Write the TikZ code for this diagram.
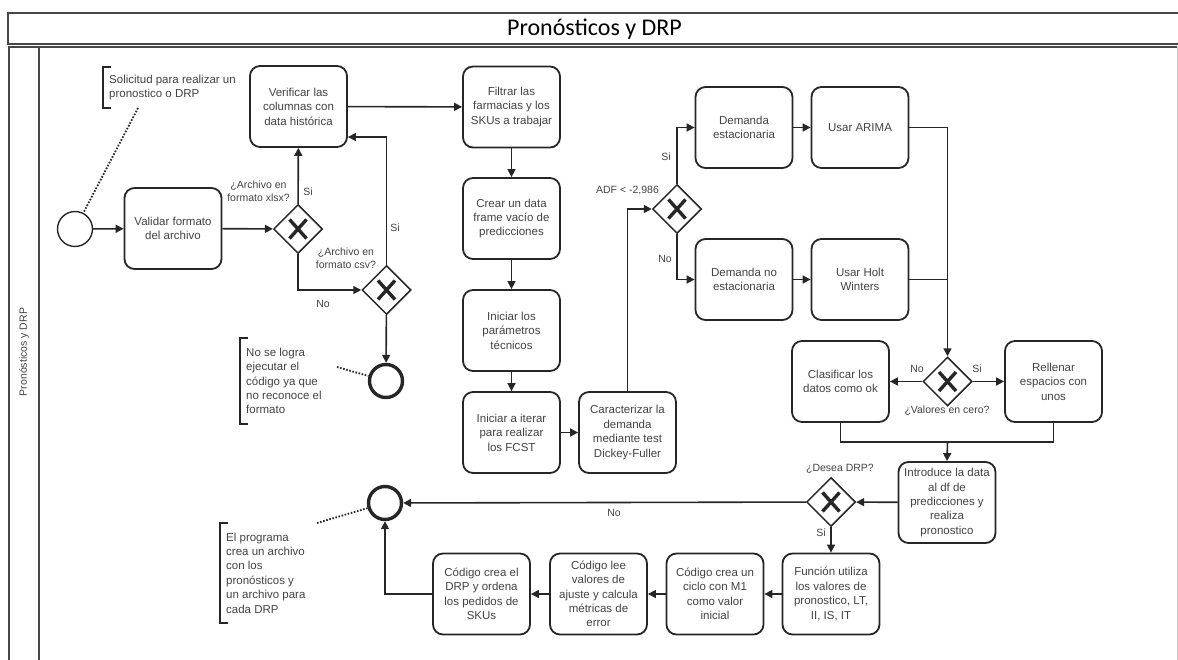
\documentclass[tikz,border=0pt]{standalone}
\usepackage{fontspec}
\setmainfont{Liberation Sans}
\newfontfamily\titlefont{Carlito}
\usetikzlibrary{shapes.geometric,arrows.meta}
\definecolor{ink}{RGB}{38,38,38}
\definecolor{txt}{RGB}{66,66,66}
\definecolor{rim}{RGB}{205,205,205}
\newcommand\gwx[1]{\draw[xmark] ([shift={(-8.5pt,-9.5pt)}]#1.center) -- ([shift={(8.5pt,9.5pt)}]#1.center)
  ([shift={(-8.5pt,9.5pt)}]#1.center) -- ([shift={(8.5pt,-9.5pt)}]#1.center);}
\begin{document}
\begin{tikzpicture}[x=1pt,y=-1pt,
  every node/.style={text=txt},
  task/.style={draw=ink, line width=1.8pt, rounded corners=10pt, minimum width=97pt,
    minimum height=81pt, align=center, inner sep=2pt, font=\fontsize{11.5}{14.4}\selectfont},
  gate/.style={draw=ink, diamond, aspect=1, minimum width=49pt, minimum height=49pt,
    inner sep=0pt, line width=1.5pt},
  xmark/.style={draw=ink, line width=3.4pt},
  startev/.style={circle, draw=ink, line width=1.4pt, minimum size=35pt, inner sep=0pt},
  endev/.style={circle, draw=ink, line width=3.4pt, minimum size=33pt, inner sep=0pt},
  flow/.style={draw=ink, line width=1.6pt, -{Triangle[length=8pt,width=8pt]}},
  plain/.style={draw=ink, line width=1.6pt},
  lbl/.style={font=\fontsize{10.5}{13}\selectfont, inner sep=0pt, align=center},
  note/.style={align=left, anchor=west, inner xsep=6pt, inner ysep=0pt,
    font=\fontsize{11.5}{14.4}\selectfont},
  bracket/.style={draw=ink, line width=1.8pt},
  assoc/.style={draw=ink, line width=1.8pt, dash pattern=on 1.6pt off 1.6pt},
  frame/.style={draw=ink!85, line width=1.5pt},
]
\useasboundingbox (0,0) rectangle (1178,660);

% pool and title bar
\draw[frame] (1180,13) -- (8,13) -- (8,44) -- (1180,44);
\draw[frame] (9,660) -- (9,47) -- (1177,47);
\draw[rim, line width=1pt] (1177,47) -- (1177,660);
\draw[frame] (39,47) -- (39,660);
\node[text=black, font=\titlefont\fontsize{24}{28}\selectfont] (title) at (594.5,29) {Pronósticos y DRP};
\node[rotate=90, font=\fontsize{10.5}{12}\selectfont] (lane) at (24,352) {Pronósticos y DRP};

% activities and events
\node[startev] (start) at (75,229) {};
\node[task] (validar) at (173,228.5) {Validar formato\\del archivo};
\node[gate] (g1) at (298,229) {};
\node[task] (verif) at (298.5,106.5) {Verificar las\\columnas con\\data histórica};
\node[gate] (g2) at (386.5,290) {};
\node[endev] (end1) at (386,381) {};
\node[task] (filtrar) at (511.5,107) {Filtrar las\\farmacias y los\\SKUs a trabajar};
\node[task] (crear) at (511.5,218.5) {Crear un data\\frame vacío de\\predicciones};
\node[task] (param) at (511.5,330.5) {Iniciar los\\parámetros\\técnicos};
\node[task] (iterar) at (511.5,432.5) {Iniciar a iterar\\para realizar\\los FCST};
\node[task] (caract) at (627.5,432.5) {Caracterizar la\\demanda\\mediante test\\Dickey-Fuller};
\node[gate] (g3) at (677,209) {};
\node[task] (dest) at (744,127.5) {Demanda\\estacionaria};
\node[task] (dnoest) at (744,279.5) {Demanda no\\estacionaria};
\node[task] (arima) at (860,127.5) {Usar ARIMA};
\node[task] (holt) at (860,279.5) {Usar Holt\\Winters};
\node[gate] (g4) at (947.5,381.5) {};
\node[task] (clasif) at (840.5,381.5) {Clasificar los\\datos como ok};
\node[task] (rellenar) at (1053.5,381.5) {Rellenar\\espacios con\\unos};
\coordinate (join) at (947.5,442);
\node[task] (intro) at (947,502.5) {Introduce la data\\al df de\\predicciones y\\realiza\\pronostico};
\node[gate] (g5) at (831,502) {};
\node[endev] (end2) at (385,503) {};
\node[task] (funcion) at (831,594) {Función utiliza\\los valores de\\pronostico, LT,\\II, IS, IT};
\node[task] (ciclo) at (715,594) {Código crea un\\ciclo con M1\\como valor\\inicial};
\node[task] (lee) at (598.5,594) {Código lee\\valores de\\ajuste y calcula\\métricas de\\error};
\node[task] (drp) at (481.5,594) {Código crea el\\DRP y ordena\\los pedidos de\\SKUs};

\gwx{g1}\gwx{g2}\gwx{g3}\gwx{g4}\gwx{g5}

% sequence flows
\draw[flow] (start) -- (validar);
\draw[flow] (validar) -- (g1);
\draw[flow] (g1) -- (verif);
\draw[flow] (g1.south) |- (g2.west);
\draw[flow] (g2.north) |- ([yshift=-30.5pt]verif.east);
\draw[flow] (g2) -- (end1);
\draw[flow] (verif) -- (filtrar);
\draw[flow] (filtrar) -- (crear);
\draw[flow] (crear) -- (param);
\draw[flow] (param) -- (iterar);
\draw[flow] (iterar) -- (caract);
\draw[flow] (caract.north) |- (g3.west);
\draw[flow] (g3.north) |- (dest.west);
\draw[flow] (g3.south) |- (dnoest.west);
\draw[flow] (dest) -- (arima);
\draw[flow] (dnoest) -- (holt);
\draw[flow] (arima.east) -| (g4.north);
\draw[plain] (holt.east) -- (holt.east -| g4.north);
\draw[flow] (g4) -- (clasif);
\draw[flow] (g4) -- (rellenar);
\draw[plain] (clasif.south) |- (join) -| (rellenar.south);
\draw[flow] (join) -- (intro.north);
\draw[flow] (intro) -- (g5);
\draw[flow] (g5) -- (end2);
\draw[flow] (g5) -- (funcion);
\draw[flow] (funcion) -- (ciclo);
\draw[flow] (ciclo) -- (lee);
\draw[flow] (lee) -- (drp);
\draw[flow] (drp.west) -| (end2.south);

% flow labels
\node[lbl] (q1) at (258.5,191) {¿Archivo en\\formato xlsx?};
\node[lbl] (s1) at (308,192) {Si};
\node[lbl] (n1l) at (323,304) {No};
\node[lbl] (q2) at (346,258.5) {¿Archivo en\\formato csv?};
\node[lbl] (s2) at (395,228) {Si};
\node[lbl] (q3) at (627.5,191) {ADF < -2,986};
\node[lbl] (s3) at (666,157) {Si};
\node[lbl] (n3l) at (665,259) {No};
\node[lbl] (n4l) at (917,369) {No};
\node[lbl] (s4) at (977,369) {Si};
\node[lbl] (q4) at (947,411) {¿Valores en cero?};
\node[lbl] (q5) at (840,469) {¿Desea DRP?};
\node[lbl] (s5) at (821,533) {Si};
\node[lbl] (n5l) at (614,513) {No};

% text annotations
\node[note, minimum height=41pt] (a1) at (103,87.5) {Solicitud para realizar un\\pronostico o DRP};
\draw[bracket] ([xshift=8pt]a1.north west) -- (a1.north west) -- (a1.south west) -- ([xshift=8pt]a1.south west);
\coordinate (a1tail) at (138,108);
\draw[assoc] (a1tail) -- (start);

\node[note, minimum height=86pt] (a2) at (240,381) {No se logra\\ejecutar el\\código ya que\\no reconoce el\\formato};
\draw[bracket] ([xshift=8pt]a2.north west) -- (a2.north west) -- (a2.south west) -- ([xshift=8pt]a2.south west);
\coordinate (a2tail) at (337,367);
\draw[assoc] (a2tail) -- (end1);

\node[note, minimum height=100pt] (a3) at (220,573) {El programa\\crea un archivo\\con los\\pronósticos y\\un archivo para\\cada DRP};
\draw[bracket] ([xshift=8pt]a3.north west) -- (a3.north west) -- (a3.south west) -- ([xshift=8pt]a3.south west);
\coordinate (a3tail) at (317,523);
\draw[assoc] (a3tail) -- (end2);
\end{tikzpicture}
\end{document}
